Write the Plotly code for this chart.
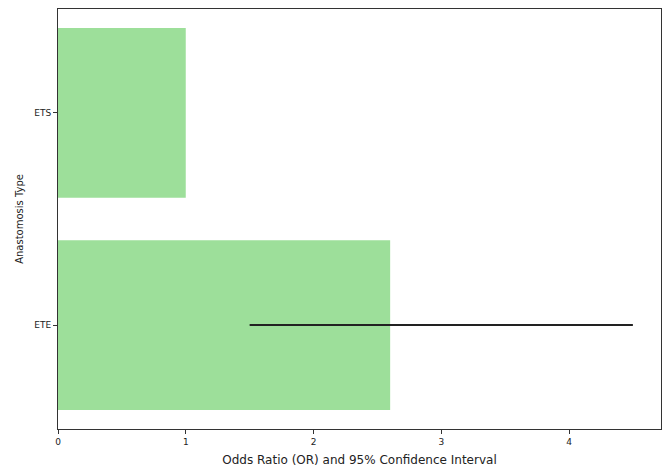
import plotly.graph_objects as go

categories = ["ETE", "ETS"]
odds_ratio = [2.6, 1.0]
ci_lower = [1.5, None]
ci_upper = [4.5, None]

fig = go.Figure()
fig.add_trace(go.Bar(
    y=categories, x=odds_ratio, orientation="h",
    marker=dict(color="#9ddf9a", line=dict(width=0)),
    width=0.8, showlegend=False,
))
for cat, lo, hi in zip(categories, ci_lower, ci_upper):
    if lo is not None:
        fig.add_trace(go.Scatter(
            x=[lo, hi], y=[cat, cat], mode="lines",
            line=dict(color="#222222", width=2), showlegend=False,
        ))

fig.update_layout(
    width=670, height=472,
    margin=dict(l=58, r=8, t=8, b=40),
    plot_bgcolor="white", paper_bgcolor="white",
    font=dict(family="DejaVu Sans", color="#222222"),
    bargap=0.2,
)
fig.update_xaxes(
    range=[0, 4.72], tickvals=[0, 1, 2, 3, 4], ticks="outside", ticklen=4,
    tickcolor="#333", showgrid=False, zeroline=False,
    showline=True, linecolor="#333", linewidth=1, mirror=True,
    tickfont=dict(size=9),
    title=dict(text="Odds Ratio (OR) and 95% Confidence Interval", font=dict(size=12), standoff=9),
)
fig.update_yaxes(
    range=[-0.49, 1.49], ticks="outside", ticklen=4, tickcolor="#333",
    showgrid=False, zeroline=False,
    showline=True, linecolor="#333", linewidth=1, mirror=True,
    tickfont=dict(size=9),
    title=dict(text="Anastomosis Type", font=dict(size=10), standoff=8),
)
fig.write_html("out.html")
